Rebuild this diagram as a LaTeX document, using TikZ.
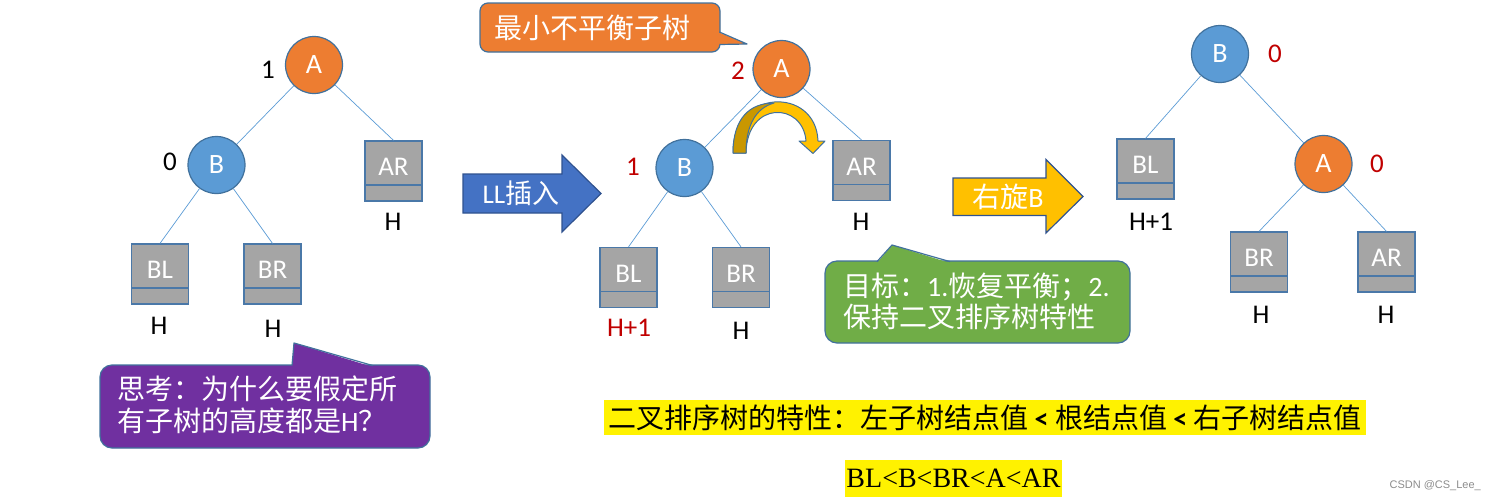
\documentclass[tikz,border=0pt]{standalone}
\usepackage{fontspec}
\setmainfont{Carlito}
\newfontfamily\cjk{Noto Sans CJK SC}
\newfontfamily\serifrm{Liberation Serif}
\newfontfamily\watermarkfont{Liberation Sans}
\definecolor{edgeblue}{HTML}{5B9BD5}
\definecolor{outl}{HTML}{41719C}
\definecolor{orangeA}{HTML}{ED7D31}
\definecolor{blueB}{HTML}{5B9BD5}
\definecolor{boxgray}{HTML}{A5A5A5}
\definecolor{boxline}{HTML}{4A78A8}
\definecolor{redtxt}{HTML}{C00000}
\definecolor{llblue}{HTML}{4472C4}
\definecolor{arrowline}{HTML}{2F528F}
\definecolor{gold}{HTML}{FFC000}
\definecolor{darkgold}{HTML}{C99700}
\definecolor{greenc}{HTML}{70AD47}
\definecolor{purplec}{HTML}{7030A0}
\begin{document}
\begin{tikzpicture}[x=1pt,y=-1pt,
  tnode/.style={circle,draw=outl,line width=1.2pt,minimum size=57pt,inner sep=0pt,text=white,font=\fontsize{28}{30}\selectfont},
  nodeA/.style={tnode,fill=orangeA},
  nodeB/.style={tnode,fill=blueB},
  subtree/.style={rectangle,draw=boxline,fill=boxgray,line width=1.2pt,minimum width=57pt,minimum height=60pt,inner sep=0pt,text=white,font=\fontsize{27}{29}\selectfont,
    path picture={\draw[boxline,line width=1.2pt] ([yshift=16pt]path picture bounding box.south west) -- ([yshift=16pt]path picture bounding box.south east);}},
  edge/.style={draw=edgeblue,line width=0.7pt},
  lbl/.style={inner sep=0pt,font=\fontsize{27}{29}\selectfont},
  bf/.style={inner sep=0pt,font=\fontsize{27}{29}\selectfont},
  calltext/.style={inner sep=0pt,text=white,align=left,font=\fontsize{28}{31}\selectfont\cjk},
  callborder/.style={draw=outl,line width=1.2pt},
  blockarrow/.style={draw=arrowline,line width=1.2pt},
  hilite/.style={fill=yellow,inner sep=0pt}
]
\useasboundingbox (0,0) rectangle (1495,501);

% ---------------- Tree 1 ----------------
\node[nodeA] (A1) at (314,65) {A};
\node[nodeB] (B1) at (216.5,165) {B};
\node[subtree] (AR1) at (393.5,171) {\raisebox{8pt}{AR}};
\node[subtree] (BL1) at (160,274) {\raisebox{8pt}{BL}};
\node[subtree] (BR1) at (272.5,274) {\raisebox{8pt}{BR}};
\draw[edge] (A1) -- (B1);
\draw[edge] (A1) -- (AR1.north);
\draw[edge] (B1) -- (BL1.north);
\draw[edge] (B1) -- (BR1.north);
\node[bf] (f1a) at (268,70) {1};
\node[bf] (f1b) at (170,162) {0};
\node[lbl] (h1ar) at (393,222) {H};
\node[lbl] (h1bl) at (159,326) {H};
\node[lbl] (h1br) at (273,329) {H};

% purple callout
\filldraw[fill=purplec,callborder,rounded corners=12pt] (100,365) rectangle (430,448);
\fill[purplec] (292,367) -- (294,343) -- (373,367) -- cycle;
\draw[callborder,line join=round] (292,365.6) -- (294,343) -- (373,365.6);
\node[calltext,anchor=west] (q1) at (117,389) {思考：为什么要假定所};
\node[calltext,anchor=west] (q2) at (117,421) {有子树的高度都是{\fontspec{Carlito}H}？};

% LL insert arrow
\filldraw[fill=llblue,blockarrow] (463,174) -- (562,174) -- (562,155) -- (601,193.5) -- (562,232) -- (562,213) -- (463,213) -- cycle;
\node[inner sep=0pt,text=white,font=\fontsize{27}{29}\selectfont] (ll) at (521,193) {LL{\cjk 插入}};

% ---------------- Tree 2 ----------------
\node[nodeA] (A2) at (781.5,69) {A};
\node[nodeB] (B2) at (684.5,168) {B};
\node[subtree] (AR2) at (861.5,170.5) {\raisebox{8pt}{AR}};
\node[subtree] (BL2) at (628.5,277.5) {\raisebox{8pt}{BL}};
\node[subtree] (BR2) at (741,277.5) {\raisebox{8pt}{BR}};
\draw[edge] (A2) -- (B2);
\draw[edge] (A2) -- (AR2.north);
\draw[edge] (B2) -- (BL2.north);
\draw[edge] (B2) -- (BR2.north);
\node[bf,text=redtxt] (f2a) at (738,71) {2};
\node[bf,text=redtxt] (f2b) at (633,167) {1};
\node[lbl] (h2ar) at (861,222) {H};
\node[lbl,text=redtxt] (h2bl) at (629,328) {H+1};
\node[lbl] (h2br) at (741,331) {H};

% curved rotation arrow
\filldraw[fill=gold,draw=outl,line width=1pt,line join=round]
  (733,153) .. controls (732,88) and (816,86) .. (818,141)
  -- (825,141) -- (813,153.5) -- (799,141) -- (806,141)
  .. controls (803,102) and (747,100) .. (746,153) -- cycle;
\filldraw[fill=darkgold,draw=outl,line width=1pt,line join=round]
  (733,153) .. controls (733,118) and (750,103) .. (774,103)
  .. controls (756,108) and (746,125) .. (746,153) -- cycle;

% orange callout
\filldraw[fill=orangeA,callborder,rounded corners=8pt] (480,3) rectangle (720,52);
\fill[orangeA] (718,32) -- (747,44) -- (718,45) -- cycle;
\draw[callborder,line join=round] (719.4,32) -- (747,44) -- (719.4,44.5);
\node[calltext,anchor=west] (c1) at (494,28) {最小不平衡子树};

% green callout
\filldraw[fill=greenc,callborder,rounded corners=12pt] (825,261) rectangle (1130,343);
\fill[greenc] (877,263) -- (892,245) -- (950,263) -- cycle;
\draw[callborder,line join=round] (877,261.6) -- (892,245) -- (950,261.6);
\node[calltext,anchor=west] (g1) at (843,287) {目标：{\fontspec{Carlito}1.}恢复平衡；{\fontspec{Carlito}2.}};
\node[calltext,anchor=west] (g2) at (843,317) {保持二叉排序树特性};

% right-rotate arrow
\filldraw[fill=gold,blockarrow] (953,178) -- (1046,178) -- (1046,159.5) -- (1083,196.5) -- (1046,233) -- (1046,215.5) -- (953,215.5) -- cycle;
\node[inner sep=0pt,text=white,font=\fontsize{28}{30}\selectfont] (rr) at (1008,197) {{\cjk 右旋}B};

% ---------------- Tree 3 ----------------
\node[nodeB] (B3) at (1220,54) {B};
\node[nodeA] (A3) at (1323.5,164) {A};
\node[subtree] (BL3) at (1145.5,169) {\raisebox{8pt}{BL}};
\node[subtree] (BR3) at (1259,262) {\raisebox{8pt}{BR}};
\node[subtree] (AR3) at (1386.5,262) {\raisebox{8pt}{AR}};
\draw[edge] (B3) -- (BL3.north);
\draw[edge] (B3) -- (A3);
\draw[edge] (A3) -- (BR3.north);
\draw[edge] (A3) -- (AR3.north);
\node[bf,text=redtxt] (f3b) at (1275,54) {0};
\node[bf,text=redtxt] (f3a) at (1377,164) {0};
\node[lbl] (h3bl) at (1151,222) {H+1};
\node[lbl] (h3br) at (1261,315) {H};
\node[lbl] (h3ar) at (1386,315) {H};

% ---------------- bottom text ----------------
\node[hilite,minimum width=762pt,minimum height=35pt,font=\fontsize{28}{30}\selectfont\cjk] (prop) at (985,417.5)
  {二叉排序树的特性：左子树结点值{\fontspec{Carlito}\bfseries\ <\ }根结点值{\fontspec{Carlito}\bfseries\ <\ }右子树结点值};
\node[hilite,minimum width=217pt,minimum height=37pt,font=\fontsize{28}{30}\selectfont\serifrm] (ord) at (953.5,478.5) {BL<B<BR<A<AR};

\node[inner sep=0pt,text=black!45,font=\fontsize{11}{12}\selectfont\watermarkfont,anchor=east] (wm) at (1481,486) {CSDN @CS\_Lee\_};
\end{tikzpicture}
\end{document}
